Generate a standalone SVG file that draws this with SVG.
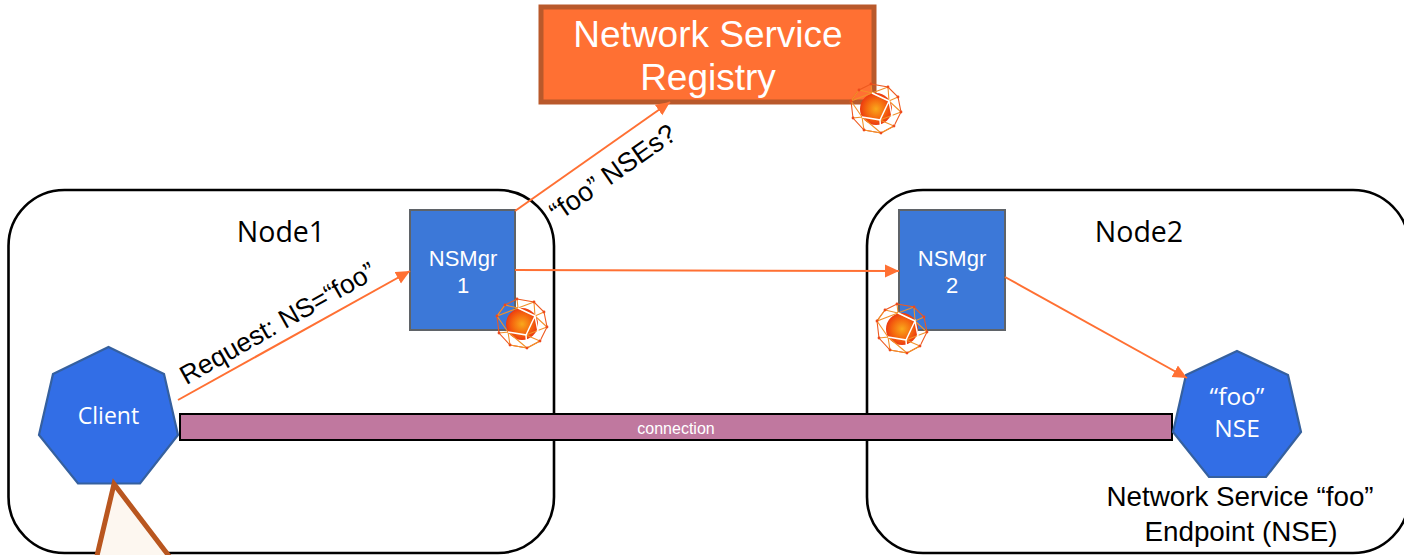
<svg xmlns="http://www.w3.org/2000/svg" width="1404" height="555" viewBox="0 0 1404 555">
<style>
.box{fill:#fff;stroke:#000;stroke-width:2.6}
.mgr{fill:#3c78d8;stroke:#5f6368;stroke-width:2}
.hept{fill:#326ee6;stroke:#35609f;stroke-width:2.2}
.w{fill:#fff;font-family:"Liberation Sans",Arial,sans-serif;text-anchor:middle}
.os{fill:#fff;font-family:"Open Sans","Noto Sans",sans-serif;text-anchor:middle}
.k{fill:#000;font-family:"Liberation Sans",Arial,sans-serif;text-anchor:middle}
.ko{fill:#000;font-family:"Open Sans","Noto Sans",sans-serif;text-anchor:middle;font-size:28.5px}
.c{fill:none;stroke:#ff7033;stroke-width:2}
</style>
<defs>
<marker id="a" markerUnits="userSpaceOnUse" markerWidth="16" markerHeight="14" refX="14" refY="6.5" orient="auto"><path d="M0 0L14 6.500L0 13Z" fill="#ff7033"/></marker>
<radialGradient id="g"><stop offset="0" stop-color="#f9a81c"/><stop offset=".6" stop-color="#f5680f"/><stop offset="1" stop-color="#ec3a10"/></radialGradient>
<g id="ball">
<circle r="16" fill="url(#g)"/>
<g fill="none" stroke="#f2912a" stroke-width="1.100">
<path d="M-5-25L12-22L22-12L25 3L18 17L5 24L-12 21L-23 9L-25-8L-17-19Z" stroke="#ee5a20"/>
<path d="M-5-25L-4-16L12-22L13-8L22-12M25 3L13-8L-4-16L-17-19L-25-8L-4-16M-25-8L-14 8L-23 9M-14 8L-12 21L5 24M-14 8L5 24L18 17L4 11L25 3M-17-19L-4-16"/>
</g>
<path d="M-14 8L4 11L5 24M4 11L13-8L18 17M13-8L-4-16" fill="none" stroke="#fff" stroke-width="1.500"/>
<g fill="#ee4a1c"><circle cx="-5" cy="-25" r="1.400"/><circle cx="12" cy="-22" r="1.400"/><circle cx="22" cy="-12" r="1.400"/><circle cx="25" cy="3" r="1.400"/><circle cx="18" cy="17" r="1.400"/><circle cx="5" cy="24" r="1.400"/><circle cx="-12" cy="21" r="1.400"/><circle cx="-23" cy="9" r="1.400"/><circle cx="-25" cy="-8" r="1.400"/><circle cx="-17" cy="-19" r="1.400"/></g>
</g>
</defs>
<g id="node1"><rect class="box" x="8.500" y="190" width="545.500" height="363" rx="56"/><text class="ko" x="281" y="242">Node1</text></g>
<g id="node2"><rect class="box" x="867" y="190" width="542" height="363" rx="56"/><text class="ko" x="1139" y="242">Node2</text></g>
<g id="connection-bar"><rect x="180" y="414" width="992" height="26" fill="#c0789f" stroke="#000" stroke-width="2"/><text class="w" x="676" y="434" font-size="16">connection</text></g>
<g id="registry"><rect x="541" y="7" width="333" height="95" fill="#ff7033" stroke="#b9592b" stroke-width="5"/><text class="w" font-size="37" x="708" y="47">Network Service</text><text class="w" font-size="37" x="708" y="90">Registry</text></g>
<g id="nsmgr1"><rect class="mgr" x="410" y="210" width="105" height="120"/><text class="w" font-size="22" x="463" y="266">NSMgr</text><text class="w" font-size="22" x="463" y="293">1</text></g>
<g id="nsmgr2"><rect class="mgr" x="899" y="210" width="106" height="120"/><text class="w" font-size="22" x="952" y="266">NSMgr</text><text class="w" font-size="22" x="952" y="293">2</text></g>
<g id="client"><polygon class="hept" points="108.500,347 164,374 178,435 140,483.500 78,483.500 39,435 53,374"/><text class="os" font-size="23" x="108.500" y="424">Client</text></g>
<g id="nse"><polygon class="hept" points="1237,351 1288,375 1301,432 1266,477 1209,477 1173,432 1186,375"/><text class="os" font-size="24.500" x="1237" y="405">“foo”</text><text class="os" font-size="24.500" x="1237" y="437">NSE</text></g>
<g id="nse-label"><text class="k" font-size="27.800" x="1240" y="506">Network Service “foo”</text><text class="k" font-size="27.800" x="1241" y="541">Endpoint (NSE)</text></g>
<g id="callout"><path d="M114 484L96 560H172Z" fill="#fdf7f0" stroke="#b9561f" stroke-width="5"/></g>
<g id="connectors">
<path class="c" d="M178 400L410 271" marker-end="url(#a)"/>
<path class="c" d="M515 211L670 102" marker-end="url(#a)"/>
<path class="c" d="M515 270L899 271" marker-end="url(#a)"/>
<path class="c" d="M1005 277L1187 378" marker-end="url(#a)"/>
</g>
<g id="edge-labels">
<text class="k" font-size="26.500" transform="translate(282 331) rotate(-29.500)">Request: NS=“foo”</text>
<text class="k" font-size="27" transform="translate(618 180) rotate(-35)">“foo” NSEs?</text>
</g>
<g id="icons">
<use href="#ball" x="876" y="109"/>
<use href="#ball" x="522" y="324"/>
<use href="#ball" x="902" y="329"/>
</g>
</svg>
